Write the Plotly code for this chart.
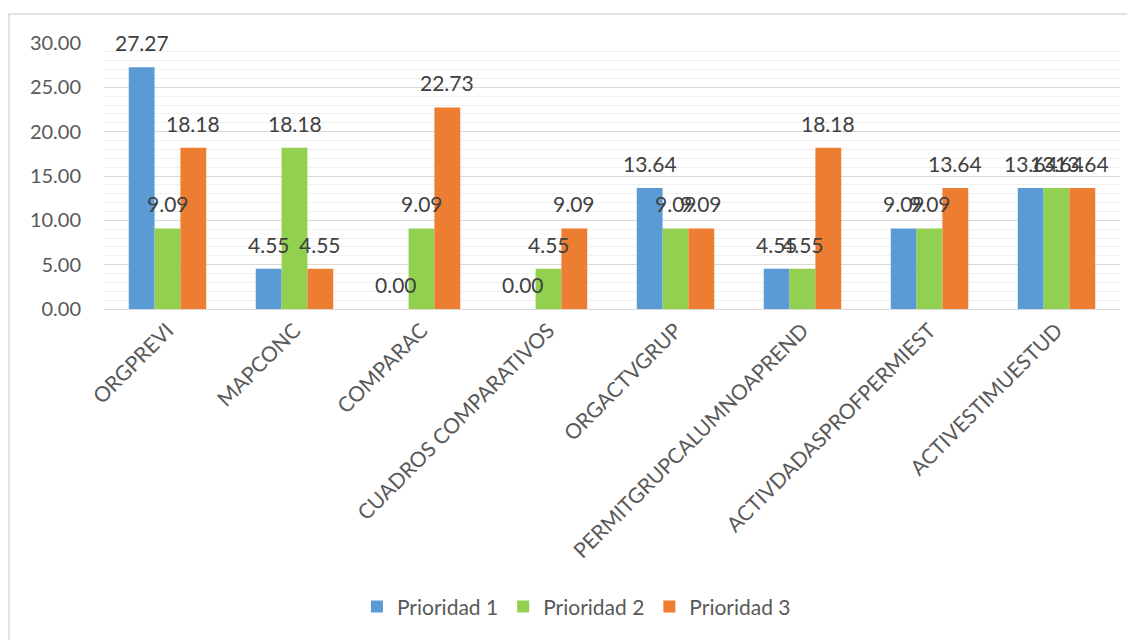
import plotly.graph_objects as go

categories = ["ORGPREVI", "MAPCONC", "COMPARAC", "CUADROS COMPARATIVOS",
              "ORGACTVGRUP", "PERMITGRUPCALUMNOAPREND", "ACTIVDADASPROFPERMIEST",
              "ACTIVESTIMUESTUD"]
prioridad_1 = [27.27, 4.55, 0.00, 0.00, 13.64, 4.55, 9.09, 13.64]
prioridad_2 = [9.09, 18.18, 9.09, 4.55, 9.09, 4.55, 9.09, 13.64]
prioridad_3 = [18.18, 4.55, 22.73, 9.09, 9.09, 18.18, 13.64, 13.64]
series_names = ["Prioridad 1", "Prioridad 2", "Prioridad 3"]
colors = ["#5B9BD5", "#92D050", "#ED7D31"]
y_ticks = [0, 5, 10, 15, 20, 25, 30]

FONT = "Lato, 'Open Sans', sans-serif"
# page has an 8px body margin, so the figure is sized/offset to compensate
W, H = 1127, 632
L, R, T, B = 96, 15, 35, 331
plot_w = W - L - R
plot_h = H - T - B
bargap = 0.39
cat_px = plot_w / len(categories)
bar_px = cat_px * (1 - bargap) / 3

fig = go.Figure()
all_series = [prioridad_1, prioridad_2, prioridad_3]
for name, vals, col in zip(series_names, all_series, colors):
    fig.add_trace(go.Bar(
        x=categories, y=vals, name=name, marker_color=col,
        marker_line_width=0,
    ))

# data labels placed above each bar (Excel "outside end" style)
for i, vals in enumerate(all_series):
    for cat, v in zip(categories, vals):
        fig.add_annotation(x=cat, y=v, text=f"{v:.2f}", showarrow=False,
                           xref="x", yref="y", yanchor="bottom",
                           xshift=(i - 1) * bar_px, yshift=10,
                           font=dict(size=21, color="#404040", family=FONT))

fig.update_layout(
    width=W, height=H,
    barmode="group", bargap=bargap, bargroupgap=0,
    plot_bgcolor="white", paper_bgcolor="white",
    margin=dict(l=L, r=R, t=T, b=B, autoexpand=False),
    font=dict(family=FONT, color="#595959"),
    legend=dict(orientation="h", x=0.465, xanchor="center", y=-1.12, yanchor="middle",
                font=dict(size=21, color="#595959", family=FONT),
                itemwidth=30, traceorder="normal"),
    showlegend=True,
)
fig.update_yaxes(range=[0, 30], tickvals=y_ticks,
                 ticktext=[f"{v:.2f}" for v in y_ticks],
                 tickfont=dict(size=20, color="#595959"),
                 showgrid=True, gridcolor="#d9d9d9", gridwidth=1,
                 minor=dict(dtick=1, showgrid=True, gridcolor="#f0f0f0", gridwidth=1),
                 zeroline=False, showline=False, ticks="", ticklabelstandoff=22,
                 automargin=False)
fig.update_xaxes(tickangle=-45, tickfont=dict(size=21, color="#595959"),
                 showline=True, linecolor="#d9d9d9", linewidth=1, ticks="",
                 automargin=False)

# chart-area border
fig.add_shape(type="rect", xref="paper", yref="paper",
              x0=(1 - L) / plot_w, x1=1.2, y0=-1.5, y1=1 + (T - 6) / plot_h,
              line=dict(color="#d9d9d9", width=1.5), fillcolor="rgba(0,0,0,0)", layer="below")

fig.write_html("out.html")
